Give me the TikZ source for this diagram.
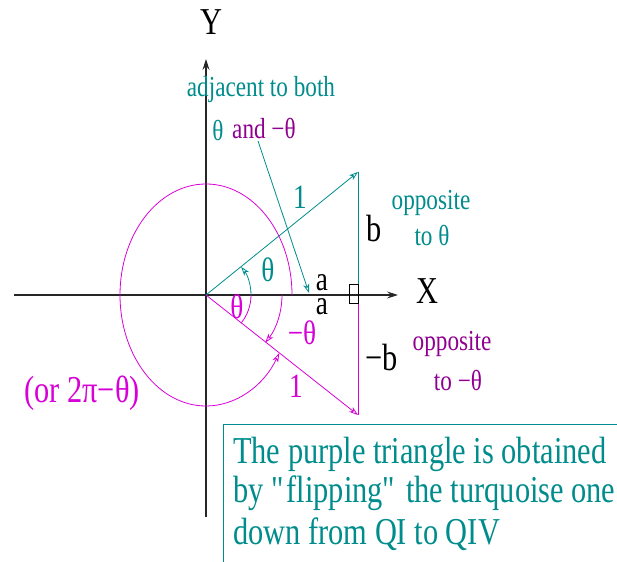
\documentclass[tikz,border=0pt]{standalone}
\usepackage{fontspec}
\setmainfont[FakeStretch=0.8]{Liberation Serif}
\usetikzlibrary{arrows.meta}
\definecolor{tealc}{RGB}{0,140,140}
\definecolor{magc}{RGB}{215,0,215}
\definecolor{purp}{RGB}{144,0,144}
\begin{document}
\begin{tikzpicture}[x=1pt,y=-1pt,
  arr/.style={-{Stealth[open,length=9pt,width=6pt,inset=2.5pt]}},
  axis/.style={draw=black!85,line width=1.1pt},
  tline/.style={draw=tealc,line width=0.8pt},
  mline/.style={draw=magc,line width=0.8pt},
  lbl/.style={inner sep=0pt,anchor=center},
  fbig/.style={font=\fontsize{38}{40}\selectfont},
  fmid/.style={font=\fontsize{34}{36}\selectfont},
  fsm/.style={font=\fontsize{29}{31}\selectfont},
  boxtext/.style={inner sep=0pt,anchor=base west,text=tealc,font=\fontsize{38}{40}\selectfont}]
\useasboundingbox (0,0) rectangle (617,561);
% points
\coordinate (O) at (206,295);
\coordinate (xl) at (14,295);
\coordinate (xr) at (398,295);
\coordinate (yb) at (206,517);
\coordinate (yt) at (206,59);
\coordinate (P) at (358,172);
\coordinate (Q) at (358,415);
\coordinate (F) at (358,295);
% axes
\draw[axis,-{Stealth[length=11pt,width=7pt,inset=4pt]}] (xl) -- (xr);
\draw[axis,-{Stealth[length=11pt,width=7pt,inset=4pt]}] (yb) -- (yt);
% triangles
\draw[tline,arr] (O) -- (P);
\draw[mline,arr] (O) -- (Q);
\draw[tline] (P) -- (F);
\draw[mline] (F) -- (Q);
\draw[black,line width=0.7pt] (349,284) rectangle (358,303);
% arcs
\draw[tline,arr] (O) ++(45,0) arc[start angle=0,end angle=-38.7,radius=45];
\draw[mline] (O) ++(38.7:45) arc[start angle=38.7,end angle=0,radius=45];
\draw[mline,arr] (O) ++(76,0) arc[start angle=0,end angle=38.7,radius=76];
\draw[mline,arr] (O) ++(86,0) arc[start angle=0,end angle=-328.4,x radius=86,y radius=111];
% labels
\node[lbl,fbig] (Y) at (211,22) {Y};
\node[lbl,fbig] (X) at (427,291) {X};
\node[lbl,fsm,text=tealc] (adj) at (261,90) {adjacent to both};
\node[lbl,fsm,text=tealc] (th1) at (218,131) {θ};
\node[lbl,fsm,text=purp,anchor=west] (andth) at (232,129) {and −θ};
\coordinate (ptip) at (309,293);
\coordinate (pstart) at (258,141);
\draw[tline,arr] (pstart) -- (ptip);
\node[lbl,fmid,text=tealc] (one1) at (300,197) {1};
\node[lbl,fmid,text=tealc] (th2) at (268,270) {θ};
\node[lbl,fmid,anchor=base] (a1) at (322,290) {a};
\node[lbl,fmid,anchor=base] (a2) at (322,314) {a};
\node[lbl,fbig] (b1) at (374,229) {b};
\node[lbl,fsm,text=tealc] (opp1) at (431,203) {opposite};
\node[lbl,fsm,text=tealc] (to1) at (432,236) {to θ};
\node[lbl,fmid,text=magc] (th3) at (237,307) {θ};
\node[lbl,fmid,text=magc] (mth) at (302,333) {−θ};
\node[lbl,fmid,text=magc] (one2) at (296,386) {1};
\node[lbl,fbig] (mb) at (382,357) {−b};
\node[lbl,fsm,text=purp] (opp2) at (452,344) {opposite};
\node[lbl,fsm,text=purp] (to2) at (458,380) {to −θ};
\node[lbl,fbig,text=magc] (or) at (82,393) {(or 2π−θ)};
% box
\draw[tealc,line width=0.8pt] (223,700) -- (223,424) -- (700,424);
\node[boxtext] (l1) at (233,463) {The purple triangle is obtained};
\node[boxtext] (l2) at (233,502) {by \textquotedbl flipping\textquotedbl\ the turquoise one};
\node[boxtext] (l3) at (233,544) {down from QI to QIV};
\end{tikzpicture}
\end{document}
